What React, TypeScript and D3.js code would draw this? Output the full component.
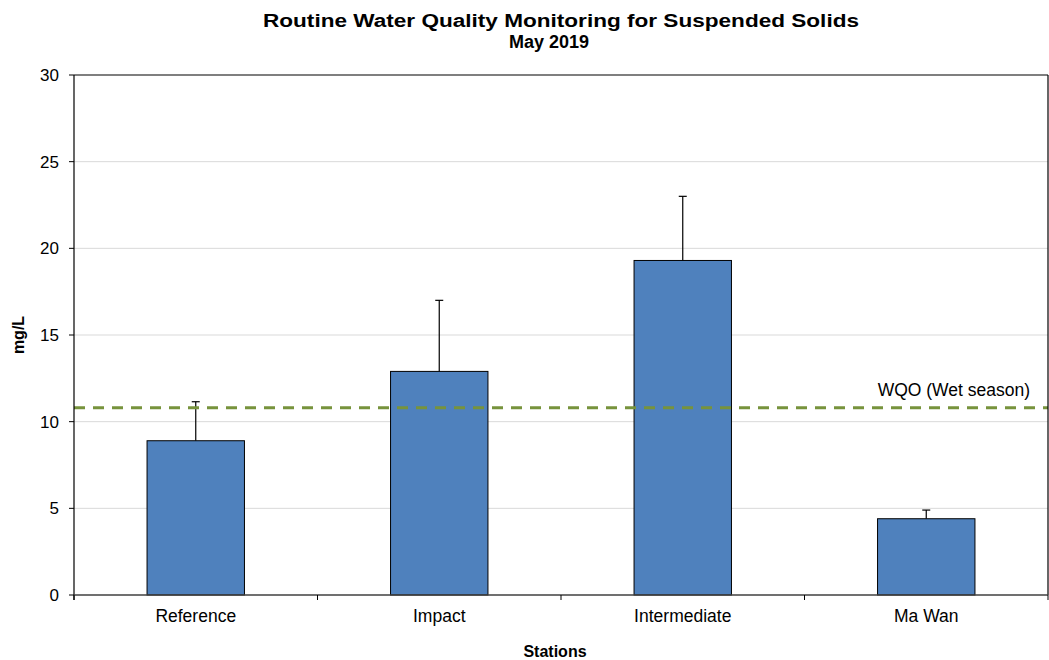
import * as d3 from "d3";

const stations = ["Reference", "Impact", "Intermediate", "Ma Wan"];
const means = [8.9, 12.9, 19.3, 4.4];
const upperErr = [11.15, 17.0, 23.0, 4.9];
const yTicks = [0, 5, 10, 15, 20, 25, 30];
const wqo = 10.8;

export default function App() {
  const width = 1049;
  const height = 660;
  const marginLeft = 74;
  const marginRight = 1;
  const marginTop = 75;
  const marginBottom = 65;

  const x = d3.scaleBand(stations, [marginLeft, width - marginRight]).paddingInner(0).paddingOuter(0);
  const y = d3.scaleLinear([0, 30], [height - marginBottom, marginTop]);
  const barW = x.bandwidth() * 0.4;
  const font = "'Liberation Sans', Arial, sans-serif";

  return (
    <svg width={width} height={height} style={{ position: "absolute", left: 0, top: 0 }} fontFamily={font}>
      <text x={561} y={27} textAnchor="middle" fontSize={18} fontWeight="bold" textLength={596} lengthAdjust="spacingAndGlyphs">Routine Water Quality Monitoring for Suspended Solids</text>
      <text x={549} y={48} textAnchor="middle" fontSize={18} fontWeight="bold">May 2019</text>

      {/* gridlines */}
      {yTicks.filter((t) => t > 0 && t < 30).map((t) => (
        <line key={t} x1={marginLeft} x2={width - marginRight} y1={y(t)} y2={y(t)} stroke="#d9d9d9" strokeWidth={1} />
      ))}

      {/* bars and error bars */}
      {stations.map((s, i) => {
        const cx = x(s)! + x.bandwidth() / 2;
        return (
          <g key={s}>
            <line x1={cx} x2={cx} y1={y(means[i])} y2={y(upperErr[i])} stroke="#000" strokeWidth={1.2} />
            <line x1={cx - 4} x2={cx + 4} y1={y(upperErr[i])} y2={y(upperErr[i])} stroke="#000" strokeWidth={1.2} />
            <rect x={cx - barW / 2} y={y(means[i])} width={barW} height={y(0) - y(means[i])} fill="#4f81bd" stroke="#000" strokeWidth={1} />
          </g>
        );
      })}

      {/* WQO line */}
      <line x1={marginLeft} x2={width - marginRight} y1={y(wqo)} y2={y(wqo)} stroke="#77933c" strokeWidth={3} strokeDasharray="11 8" />
      <text x={1030} y={396} textAnchor="end" fontSize={17.5}>WQO (Wet season)</text>

      {/* plot frame */}
      <line x1={marginLeft} x2={width - marginRight} y1={marginTop} y2={marginTop} stroke="#000" strokeWidth={1.2} />
      <line x1={width - marginRight} x2={width - marginRight} y1={marginTop} y2={y(0)} stroke="#000" strokeWidth={1.2} />
      <line x1={marginLeft} x2={marginLeft} y1={marginTop} y2={y(0) + 5} stroke="#000" strokeWidth={1.2} />
      <line x1={marginLeft} x2={width - marginRight} y1={y(0)} y2={y(0)} stroke="#404040" strokeWidth={1.5} />

      {/* y axis ticks */}
      {yTicks.map((t) => (
        <g key={t}>
          <line x1={marginLeft - 5} x2={marginLeft} y1={y(t)} y2={y(t)} stroke="#000" strokeWidth={1} />
          <text x={59} y={y(t) + 6} textAnchor="end" fontSize={17}>{t}</text>
        </g>
      ))}

      {/* x axis ticks */}
      {stations.map((s) => (
        <line key={s} x1={x(s)!} x2={x(s)!} y1={y(0)} y2={y(0) + 5} stroke="#000" strokeWidth={1} />
      ))}
      <line x1={width - marginRight} x2={width - marginRight} y1={y(0)} y2={y(0) + 5} stroke="#000" strokeWidth={1} />
      {stations.map((s) => (
        <text key={s} x={x(s)! + x.bandwidth() / 2} y={622} textAnchor="middle" fontSize={17.5}>{s}</text>
      ))}

      <text x={555} y={657} textAnchor="middle" fontSize={16} fontWeight="bold">Stations</text>
      <text transform={`translate(24,${(marginTop + y(0)) / 2}) rotate(-90)`} textAnchor="middle" fontSize={16} fontWeight="bold">mg/L</text>
    </svg>
  );
}
